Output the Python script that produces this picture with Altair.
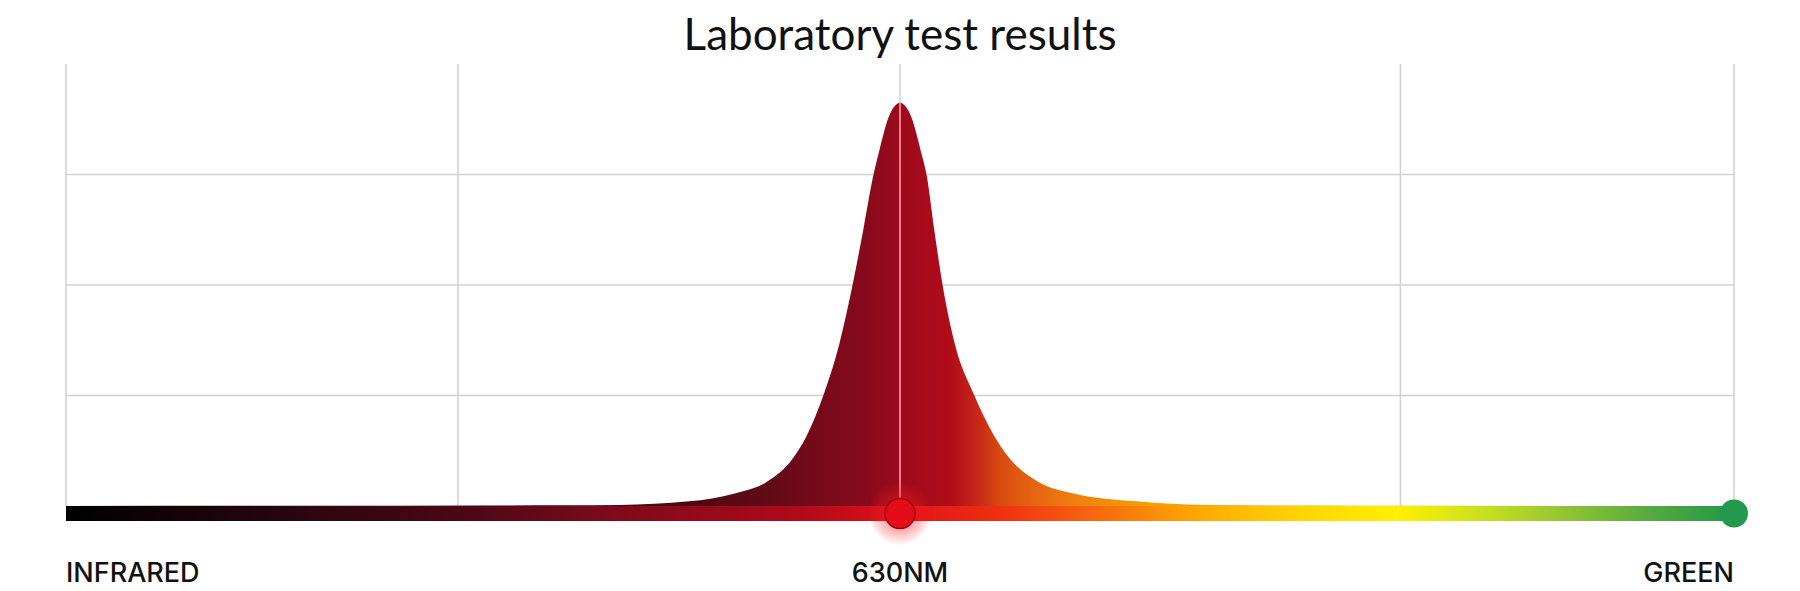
import altair as alt
import pandas as pd

# ---- data ----
wavelength_nm = [730.0, 700.0, 680.0, 670.0, 663.6, 655.3, 649.8, 646.0, 642.9, 641.2,
                 639.1, 637.3, 635.8, 634.4, 633.2, 632.5, 632.0, 631.5, 631.0, 630.5,
                 630.0,
                 629.5, 629.0, 628.5, 628.0, 627.5, 626.8, 625.9, 624.8, 623.4,
                 621.2, 618.7, 616.8, 613.4, 609.2, 601.6, 593.4, 580.0, 570.0, 530.0]
intensity = [0.0, 0.002, 0.004, 0.006, 0.010, 0.042, 0.114, 0.218, 0.426, 0.634,
             1.02, 1.46, 1.96, 2.50, 2.99, 3.21, 3.36, 3.49, 3.58, 3.63,
             3.65,
             3.63, 3.58, 3.49, 3.36, 3.21, 2.99, 2.50, 1.96, 1.46,
             1.02, 0.634, 0.426, 0.218, 0.114, 0.042, 0.010, 0.004, 0.002, 0.0]

grid_x_nm = [730, 683, 630, 570, 530]
grid_y = [1, 2, 3]
title_text = "Laboratory test results"
label_text = ["INFRARED", "630NM", "GREEN"]
label_nm = [730, 630, 530]
label_align = ["left", "center", "right"]
peak_nm = 630
peak_value = 3.65
green_nm = 530
x_start, x_end = 730, 530
y_top = 4
bar_bottom = -0.1357

# ---- scales ----
xs = alt.Scale(domain=[x_start, x_end], nice=False, zero=False)
ys = alt.Scale(domain=[bar_bottom, y_top], nice=False, zero=False)

def X(f="x"):
    return alt.X(f"{f}:Q", scale=xs, axis=None)

def Y(f="y"):
    return alt.Y(f"{f}:Q", scale=ys, axis=None)

GRID = "#d0d0d0"

vgrid = alt.Chart(pd.DataFrame({"x": grid_x_nm, "y": [0] * len(grid_x_nm), "y2": [y_top] * len(grid_x_nm)})).mark_rule(
    color=GRID, strokeWidth=1.5).encode(x=X(), y=Y(), y2="y2:Q")

hgrid = alt.Chart(pd.DataFrame({"x": [x_start] * 3, "x2": [x_end] * 3, "y": grid_y})).mark_rule(
    color=GRID, strokeWidth=1.5).encode(x=X(), x2="x2:Q", y=Y())

area_grad = alt.Gradient(
    gradient="linear", x1=0, x2=1, y1=0, y2=0,
    stops=[
        alt.GradientStop(offset=0.0, color="#1a0408"),
        alt.GradientStop(offset=0.30, color="#3a0610"),
        alt.GradientStop(offset=0.38, color="#4e0812"),
        alt.GradientStop(offset=0.43, color="#680a18"),
        alt.GradientStop(offset=0.48, color="#880a1c"),
        alt.GradientStop(offset=0.505, color="#a00a1c"),
        alt.GradientStop(offset=0.53, color="#b00c1a"),
        alt.GradientStop(offset=0.545, color="#c42418"),
        alt.GradientStop(offset=0.56, color="#d84a10"),
        alt.GradientStop(offset=0.58, color="#e66410"),
        alt.GradientStop(offset=0.605, color="#ef8010"),
        alt.GradientStop(offset=0.65, color="#f5a000"),
        alt.GradientStop(offset=1.0, color="#f8c000"),
    ],
)

area = alt.Chart(pd.DataFrame({"x": wavelength_nm, "y": intensity})).mark_area(
    interpolate="monotone", color=area_grad, opacity=1).encode(x=X(), y=Y(), y2=alt.Y2(datum=0))

peak_line = alt.Chart(pd.DataFrame({"x": [peak_nm], "y": [peak_value], "y2": [0]})).mark_rule(
    color="#ff8593", strokeWidth=1.8).encode(x=X(), y=Y(), y2="y2:Q")

bar_grad = alt.Gradient(
    gradient="linear", x1=0, x2=1, y1=0, y2=0,
    stops=[
        alt.GradientStop(offset=0.0, color="#000000"),
        alt.GradientStop(offset=0.14, color="#2a0610"),
        alt.GradientStop(offset=0.236, color="#4a0814"),
        alt.GradientStop(offset=0.32, color="#7a0a1a"),
        alt.GradientStop(offset=0.44, color="#b00a1a"),
        alt.GradientStop(offset=0.5, color="#e0101a"),
        alt.GradientStop(offset=0.56, color="#f03010"),
        alt.GradientStop(offset=0.62, color="#f86a10"),
        alt.GradientStop(offset=0.68, color="#ffaa00"),
        alt.GradientStop(offset=0.74, color="#ffd400"),
        alt.GradientStop(offset=0.798, color="#fff000"),
        alt.GradientStop(offset=0.85, color="#c8e020"),
        alt.GradientStop(offset=0.90, color="#90c434"),
        alt.GradientStop(offset=0.95, color="#55aa40"),
        alt.GradientStop(offset=1.0, color="#22984c"),
    ],
)

bar = alt.Chart(pd.DataFrame({"x": [x_start], "x2": [x_end], "y": [0], "y2": [bar_bottom]})).mark_rect(
    color=bar_grad).encode(x=X(), x2="x2:Q", y=Y(), y2="y2:Q")

dot_y = bar_bottom / 2
glows = []
for diam in [62, 58, 54, 50, 46, 42, 38, 34]:
    glows.append(alt.Chart(pd.DataFrame({"x": [peak_nm], "y": [dot_y]})).mark_circle(
        color="#ff2020", opacity=0.055, size=diam * diam).encode(x=X(), y=Y()))

red_dot = alt.Chart(pd.DataFrame({"x": [peak_nm], "y": [dot_y]})).mark_point(
    shape="circle", filled=True, fill="#e30d18", stroke="#a3000f", strokeWidth=1.5,
    opacity=1, size=900).encode(x=X(), y=Y())

green_dot = alt.Chart(pd.DataFrame({"x": [green_nm], "y": [dot_y]})).mark_circle(
    color="#22994c", opacity=1, size=784).encode(x=X(), y=Y())

labels = []
for t, nm, al in zip(label_text, label_nm, label_align):
    labels.append(alt.Chart(pd.DataFrame({"x": [nm], "y": [bar_bottom], "t": [t]})).mark_text(
        align=al, baseline="alphabetic", dy=61, fontSize=27, font="Inter", fontWeight=500,
        color="#111111").encode(x=X(), y=Y(), text="t:N"))

title = alt.Chart(pd.DataFrame({"x": [peak_nm], "y": [y_top], "t": [title_text]})).mark_text(
    align="center", baseline="alphabetic", dy=-14, fontSize=44, font="Lato", fontWeight="normal",
    color="#111111").encode(x=X(), y=Y(), text="t:N")

chart = alt.layer(vgrid, hgrid, area, peak_line, bar, *glows, red_dot, green_dot, *labels, title).properties(
    width=1668, height=457,
    autosize=alt.AutoSizeParams(type="none"),
    padding={"left": 58, "top": 56, "right": 34, "bottom": 70},
    background="white",
).configure_view(stroke=None)

chart.save("out.html", embed_options={"renderer": "svg", "actions": False})
